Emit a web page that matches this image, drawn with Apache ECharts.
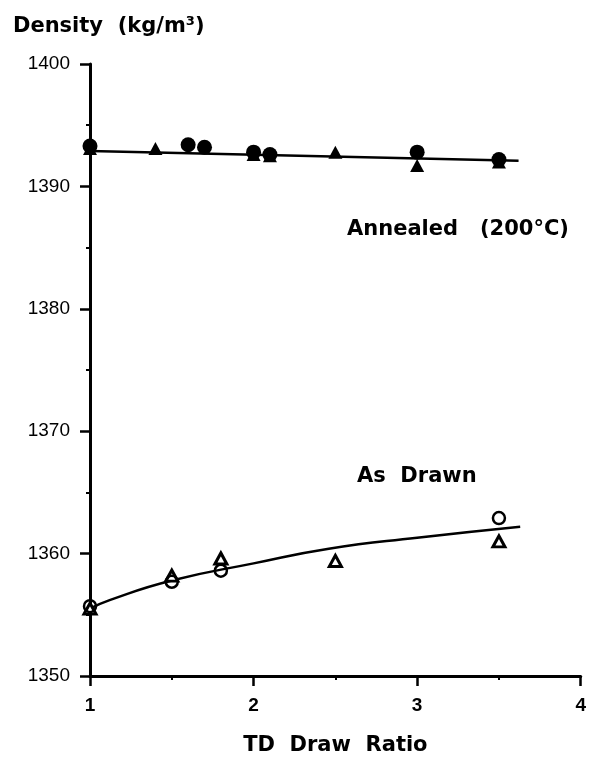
<!DOCTYPE html>
<html>
<head>
<meta charset="utf-8">
<script src="https://cdn.jsdelivr.net/npm/echarts@6/dist/echarts.min.js"></script>
<style>html,body{margin:0;padding:0;background:#fff}#c{width:589px;height:761px}</style>
</head>
<body>
<div id="c"></div>
<script>
// Annealed (200°C): filled symbols
var annealedCircleX = [1.0, 1.6, 1.7, 2.0, 2.1, 3.0, 3.5];
var annealedCircleY = [1393.3, 1393.4, 1393.2, 1392.8, 1392.6, 1392.8, 1392.2];
var annealedTriX = [1.0, 1.4, 2.0, 2.1, 2.5, 3.0, 3.5];
var annealedTriY = [1393.1, 1393.1, 1392.6, 1392.5, 1392.8, 1391.7, 1392.0];
var annealedFitX = [1.0, 3.62];
var annealedFitY = [1392.9, 1392.1];
// As drawn: open symbols
var drawnCircleX = [1.0, 1.5, 1.8, 3.5];
var drawnCircleY = [1355.7, 1357.7, 1358.6, 1362.9];
var drawnTriX = [1.0, 1.5, 1.8, 2.5, 3.5];
var drawnTriY = [1355.5, 1358.2, 1359.6, 1359.4, 1361.0];
var drawnFitX = [1.0, 1.12, 1.5, 2.0, 2.46, 3.0, 3.63];
var drawnFitY = [1355.5, 1356.2, 1357.8, 1359.2, 1360.4, 1361.3, 1362.2];
// Axes
var xTicks = [1, 2, 3, 4];
var yTicks = [1350, 1360, 1370, 1380, 1390, 1400];

function pairs(xs, ys) { return xs.map(function (x, i) { return [x, ys[i]]; }); }

var chart = echarts.init(document.getElementById('c'), null, { renderer: 'canvas' });
var axisCommon = {
  axisLine: { show: true, lineStyle: { color: '#000', width: 3 } },
  axisTick: { show: true, inside: false, length: 10, lineStyle: { color: '#000', width: 2.5 } },
  minorTick: { show: true, splitNumber: 2, length: 4, lineStyle: { color: '#000', width: 2 } },
  splitLine: { show: false }
};
chart.setOption({
  animation: false,
  backgroundColor: '#fff',
  grid: { left: 90, right: 6, top: 64, bottom: 78 },
  xAxis: Object.assign({
    type: 'value', min: xTicks[0], max: xTicks[xTicks.length - 1], interval: 1,
    name: 'TD  Draw  Ratio', nameLocation: 'middle', nameGap: 59,
    nameTextStyle: { fontFamily: 'DejaVu Sans', fontWeight: 'bold', fontSize: 21, color: '#000' },
    axisLabel: { margin: 20, fontFamily: 'Liberation Sans', fontWeight: 'bold', fontSize: 19, color: '#000',
      formatter: function (v) { return String(v); } }
  }, axisCommon),
  yAxis: Object.assign({
    type: 'value', min: yTicks[0], max: yTicks[yTicks.length - 1], interval: 10,
    axisLabel: { margin: 20, fontFamily: 'Liberation Sans', fontSize: 19, color: '#000',
      formatter: function (v) { return String(v); } }
  }, axisCommon),
  graphic: [
    { type: 'text', left: 13, top: 16, style: { text: 'Density  (kg/m³)', font: 'bold 21px "DejaVu Sans"', fill: '#000' } },
    { type: 'text', left: 347, top: 219, style: { text: 'Annealed   (200°C)', font: 'bold 21px "DejaVu Sans"', fill: '#000' } },
    { type: 'text', left: 357, top: 466, style: { text: 'As  Drawn', font: 'bold 21px "DejaVu Sans"', fill: '#000' } }
  ],
  series: [
    { type: 'line', data: pairs(annealedFitX, annealedFitY), showSymbol: false, symbol: 'none',
      lineStyle: { color: '#000', width: 2.5 }, z: 1 },
    { type: 'line', data: pairs(drawnFitX, drawnFitY), smooth: true, showSymbol: false, symbol: 'none',
      lineStyle: { color: '#000', width: 2.5 }, z: 1 },
    { type: 'scatter', data: pairs(annealedTriX, annealedTriY), symbol: 'triangle', symbolSize: [14, 13],
      itemStyle: { color: '#000', opacity: 1 }, z: 3 },
    { type: 'scatter', data: pairs(annealedCircleX, annealedCircleY), symbol: 'circle', symbolSize: 15,
      itemStyle: { color: '#000', opacity: 1 }, z: 3 },
    { type: 'scatter', data: pairs(drawnTriX, drawnTriY), symbol: 'triangle', symbolSize: [12, 11],
      itemStyle: { color: '#fff', borderColor: '#000', borderWidth: 3, opacity: 1 }, z: 3 },
    { type: 'scatter', data: pairs(drawnCircleX, drawnCircleY), symbol: 'circle', symbolSize: 12,
      itemStyle: { color: 'rgba(255,255,255,0)', borderColor: '#000', borderWidth: 2.5, opacity: 1 }, z: 4 }
  ]
});
</script>
</body>
</html>
